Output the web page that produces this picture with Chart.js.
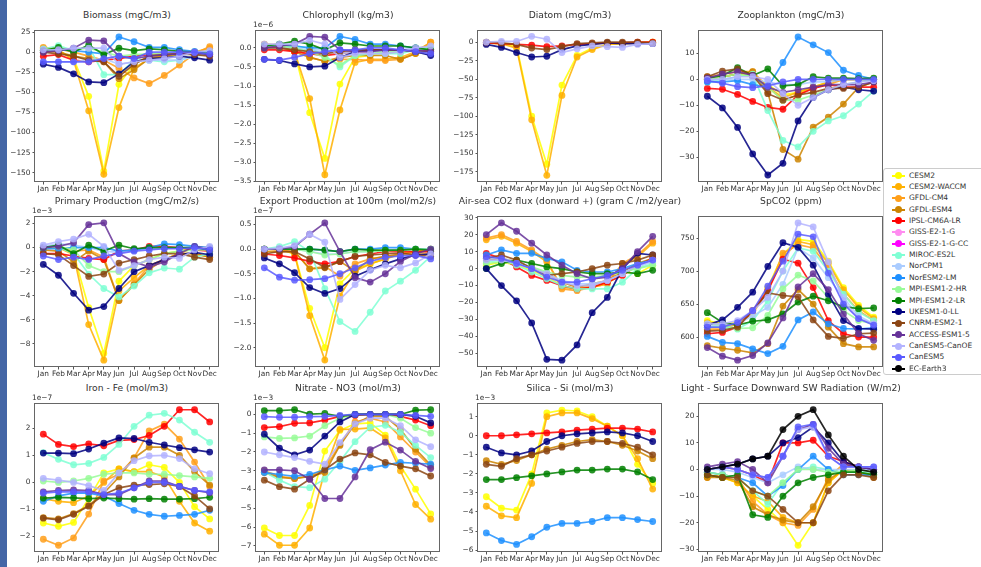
<!DOCTYPE html>
<html lang="en">
<head>
<meta charset="UTF-8">
<title>Seasonal anomalies by CMIP6 model</title>
<style>
  body { margin: 0; width: 981px; height: 567px; overflow: hidden; background: #fff; position: relative; font-family: "DejaVu Sans", sans-serif; }
  .strip { position: absolute; left: 0; top: 0; width: 7px; height: 567px; background: #4466a6; }
  .title { position: absolute; width: 400px; text-align: center; font-size: 9.2px; line-height: 12px; color: #333; white-space: nowrap; }
  canvas { position: absolute; }
  #legend { position: absolute; left: 883px; top: 168px; width: 110px; height: 205px; border: 1px solid #ccc; border-radius: 3px; background: #fff; z-index: 2; }
  .item { position: absolute; left: 0; height: 11px; width: 110px; }
  .ln { position: absolute; left: 8px; top: 5px; width: 13px; height: 2px; }
  .dt { position: absolute; left: 11px; top: 2.5px; width: 7px; height: 7px; border-radius: 50%; }
  .tx { position: absolute; left: 25px; top: 0; font-size: 7.5px; line-height: 11px; color: #333; white-space: nowrap; }
</style>
</head>
<body>

<div class="strip"></div>
<div id="legend"></div>

<script src="https://cdn.jsdelivr.net/npm/chart.js@4.4.1/dist/chart.umd.min.js"></script>
<script>
// ---- data ----
var months = ['Jan', 'Feb', 'Mar', 'Apr', 'May', 'Jun', 'Jul', 'Aug', 'Sep', 'Oct', 'Nov', 'Dec'];

var models = ['CESM2', 'CESM2-WACCM', 'GFDL-CM4', 'GFDL-ESM4', 'IPSL-CM6A-LR', 'GISS-E2-1-G',
    'GISS-E2-1-G-CC', 'MIROC-ES2L', 'NorCPM1', 'NorESM2-LM', 'MPI-ESM1-2-HR', 'MPI-ESM1-2-LR',
    'UKESM1-0-LL', 'CNRM-ESM2-1', 'ACCESS-ESM1-5', 'CanESM5-CanOE', 'CanESM5', 'EC-Earth3'];

var colors = ['#ffff00', '#ffb000', '#ff9f1a', '#cc8400', '#ff0000', '#ff8cf0',
    '#ff00ff', '#7fffd4', '#aaccff', '#1e90ff', '#98fb98', '#008000',
    '#000080', '#8b4513', '#663399', '#b3b3ff', '#5a5aff', '#000000'];

var titles = ['Biomass (mgC/m3)', 'Chlorophyll (kg/m3)', 'Diatom (mgC/m3)', 'Zooplankton (mgC/m3)',
    'Primary Production (mgC/m2/s)', 'Export Production at 100m (mol/m2/s)',
    'Air-sea CO2 flux (donward +) (gram C /m2/year)', 'SpCO2 (ppm)',
    'Iron - Fe (mol/m3)', 'Nitrate - NO3 (mol/m3)', 'Silica - Si (mol/m3)',
    'Light - Surface Downward SW Radiation (W/m2)'];

// offset labels (values below are in these units)
var offsets = ['', '1e\u22126', '', '', '1e\u22123', '1e\u22127', '', '', '1e\u22127', '1e\u22123', '1e\u22123', ''];

var yTicks = [
    [25, 0, -25, -50, -75, -100, -125, -150],
    [0, -0.5, -1, -1.5, -2, -2.5, -3, -3.5],
    [0, -25, -50, -75, -100, -125, -150, -175],
    [10, 0, -10, -20, -30],
    [2, 0, -2, -4, -6, -8],
    [0.5, 0, -0.5, -1, -1.5, -2],
    [30, 20, 10, 0, -10, -20, -30, -40, -50],
    [750, 700, 650, 600],
    [2, 1, 0, -1, -2],
    [0, -1, -2, -3, -4, -5, -6, -7],
    [1, 0, -1, -2, -3, -4, -5, -6],
    [20, 10, 0, -10, -20, -30]
];
var yDecimals = [0, 1, 0, 0, 0, 1, 0, 0, 0, 0, 0, 0];
var yMin = [-161.6, -3.52, -189, -39.5, -9.92, -2.39, -58, 554.6, -2.57, -7.33, -6.1, -31];
var yMax = [27.6, 0.47, 16.5, 19, 2.62, 0.67, 31, 783.5, 2.93, 0.61, 1.72, 25];

// one row per model (same order as models), null = not plotted
var biomass = [
    [3, 2, -8, -55, -148, -40, -15, -5, -2, -2, 0, 2],
    [5, 3, -10, -73, -152, -69, -20, -8, -4, -2, 0, 5],
    [6, 4, 0, -5, -10, -20, -32, -39, -29, -16, -2, 7],
    [2, 0, -5, -8, -12, -33, -22, -8, -5, -3, -2, -3],
    [-5, -3, -10, -12, -10, -8, -5, -3, -2, -2, -2, -3],
    null,
    null,
    [4, 8, 2, 7, -28, -28, -10, -10, -12, -10, -5, -2],
    [-12, -12, -12, -10, -8, -15, -12, -10, -10, -10, -5, -2],
    [2, 3, 2, 0, -2, 19, 13, 6, 6, 3, 1, 0],
    [2, 5, 3, 5, 0, -5, -3, -2, -2, -3, -2, 0],
    [2, 6, 0, 9, -3, 5, 2, 4, 3, 1, 0, -2],
    [-15, -19, -27, -37, -38, -27, -12, -8, -7, -5, -7, -10],
    [0, -2, -5, -10, -12, -30, -15, -5, -3, -2, -3, -5],
    [0, 2, 5, 15, 14, -5, -8, -5, -3, -2, -1, -3],
    [3, 3, 5, 5, 5, -15, -12, -10, -8, -5, 0, 2],
    [-12, -12, -12, -12, -8, -5, -8, 0, 0, 0, 0, -2],
    null
];

var chlorophyll = [
    [0.05, 0.05, -0.1, -1.7, -2.9, -0.95, -0.25, -0.2, -0.15, -0.1, -0.05, 0.1],
    [0.1, 0.08, -0.1, -1.33, -3.33, -1.63, -0.38, -0.3, -0.3, -0.25, -0.1, 0.15],
    [0.08, 0.05, 0, -0.25, -0.35, -0.3, -0.3, -0.33, -0.33, -0.3, -0.15, 0.15],
    [0.05, 0.02, -0.1, -0.25, -0.35, -0.25, -0.2, -0.2, -0.2, -0.3, -0.15, -0.05],
    [-0.05, -0.05, -0.1, -0.15, -0.2, -0.15, -0.1, -0.1, -0.05, -0.05, -0.05, -0.05],
    null,
    null,
    [0.05, 0.1, 0.05, 0, -0.2, -0.5, -0.2, -0.15, -0.15, -0.15, -0.05, 0],
    [0, 0, 0, -0.05, -0.05, -0.15, -0.1, -0.1, -0.1, -0.05, 0, 0],
    [0.05, 0.05, 0.05, 0, 0, 0.3, 0.22, 0.1, 0.1, 0.05, 0, -0.05],
    [0.05, 0.05, 0, -0.1, -0.25, -0.45, -0.2, -0.15, -0.1, -0.1, -0.05, 0],
    [0.05, 0.1, 0.18, 0.1, -0.05, 0.13, 0.1, 0.05, 0.05, 0.05, 0, -0.05],
    [-0.3, -0.33, -0.42, -0.5, -0.48, -0.25, -0.1, -0.05, -0.05, -0.05, -0.1, -0.2],
    [0, 0, -0.05, -0.1, -0.15, -0.1, -0.05, -0.05, -0.05, -0.05, -0.1, -0.1],
    [0, 0.05, 0.1, 0.3, 0.28, -0.05, -0.1, -0.1, -0.05, -0.05, -0.05, -0.1],
    [0.1, 0.1, 0.1, 0.2, 0.1, -0.25, -0.15, -0.15, -0.15, -0.1, 0, 0.05],
    [-0.3, -0.32, -0.25, -0.15, -0.1, -0.05, -0.05, 0, 0, -0.05, -0.1, -0.15],
    null
];

var diatom = [
    [-1, -2, -5, -100, -165, -58, -18, -8, -3, -2, -1, 0],
    [-1, -2, -8, -105, -180, -72, -20, -10, -3, -2, -1, 0],
    null,
    null,
    [-1, -2, -3, -4, -6, -5, -3, -2, -1, -1, 0, 0],
    null, null, null, null, null, null, null,
    [-3, -7, -14, -20, -19, -10, -5, -3, -1, -2, -2, -2],
    [0, -1, -3, -8, -10, -6, -2, -1, 0, 0, 0, -1],
    null,
    [0, 1, 1, 8, 4, -14, -9, -5, -6, -7, -3, -2],
    null,
    null
];

var zooplankton = [
    [0, 1, 2, 1, -2, -6, -5, -3, -1, 0, 0, 0],
    [0, 1, 2, 2, -3, -7, -5, -3, -1, 0, 0, 0],
    [1, 2, 3, 3, -3, -8, -6, -3, -2, 0, 0, 0],
    [0.5, 1, 2, 3, -5, -27, -30.7, -18.4, -14.5, -9.5, -3, -1],
    [-3.5, -3.8, -5.8, -8.5, -10.8, -11.5, -6, -3.5, -2, -3, -3, -3],
    null,
    null,
    [-1, 0, 1, 2, -12, -23.5, -26, -20, -16, -14, -9.5, -4.5],
    [0, 0, 0, 0, -1, -2, -2, -1, -1, 0, 0, 0],
    [-1, -1, -0.5, -2, -3, 6.5, 16.3, 13.3, 10.3, 3.5, 1.5, 0],
    [0, 1, 2, 1, -3, -8, -8, -6, -4, -2, -1, 0],
    [0.5, 1.5, 4.5, 1.5, 4, -2.5, -2, 1, 0.5, 0.5, 0.3, 0.5],
    [-6.5, -11, -18.5, -28.7, -36.8, -32.3, -16, -7, -4, -3, -4, -4.5],
    [1, 3.2, 4, 1.5, -5.5, -8, -6, -5, -3.5, -3.5, -3, -1],
    [0.5, 2, 3, 1.5, -3, -5, -4, -3, -2, -2, -2, -1],
    [0, 0, 1, 1, 0, -5.5, -10, -7, -4, -2, -1, -0.5],
    [-0.5, -1.5, -2.8, -3.2, -2.5, -1, 0, 0, 0, 0, 0, 0],
    null
];

var primaryProd = [
    [0, 0, -0.5, -5, -8.8, -2.8, -1.5, -1, -0.5, -0.3, 0, 0],
    [0, 0, -0.6, -6.4, -9.35, -3.6, -2.5, -1.5, -1, -0.5, 0, 0],
    [0, 0, -0.3, -0.2, -0.8, -4.4, -3, -1.5, -1, -0.5, -0.5, -0.8],
    [-0.2, -0.3, -1.2, -0.3, -1, -4.4, -3.1, -1.8, -1, -0.5, -0.5, -0.8],
    [-0.5, -0.5, -0.7, -0.9, -1, -0.3, -0.2, 0.1, 0.1, 0, -0.2, -0.3],
    null,
    null,
    [0, 0, -0.5, -2.2, -3.4, -4.1, -3.2, -2.1, -1.7, -1.8, -0.8, -0.5],
    [0.1, 0.3, 0.2, 0, -0.3, -0.4, -0.2, -0.1, 0, 0, 0, 0],
    [-0.1, -0.1, 0, 0, 0, -0.3, -0.2, 0, 0.3, 0.25, 0.1, 0],
    [0, 0.1, -0.2, -1.5, -2, -2, -1.5, -1, -0.5, -0.3, -0.2, -0.2],
    [0, 0.2, -0.5, 0.2, -0.3, 0.2, -0.1, 0, 0, 0, 0, -0.2],
    [-1.4, -2.3, -3.8, -5.2, -4.9, -3.4, -2, -1.5, -1, -0.6, -0.4, -0.6],
    [-0.5, -0.6, -1.5, -2.4, -2.2, -1.3, -1, -0.7, -0.5, -0.5, -0.8, -1],
    [0, 0.1, 0.4, 1.9, 2.05, -0.5, -1.2, -1.6, -1.2, -0.5, 0.1, -0.1],
    [0.2, 0.5, 0.7, 1.1, 0.1, -1.9, -1.5, -1, -0.8, -0.9, -0.2, 0.1],
    [-0.7, -1, -0.8, -1, -0.7, -0.5, -0.3, -0.2, -0.1, -0.1, 0, -0.2],
    null
];

var exportProd = [
    [0, 0, -0.1, -1.2, -2.0, -0.7, -0.4, -0.3, -0.2, -0.1, -0.05, 0],
    [0, 0, -0.1, -1.35, -2.25, -0.95, -0.45, -0.3, -0.2, -0.1, -0.05, 0],
    [0, -0.02, -0.05, -0.4, -0.35, -0.55, -0.3, -0.2, -0.15, -0.1, -0.05, -0.05],
    [-0.05, -0.05, -0.05, -0.4, -0.38, -0.25, -0.45, -0.2, -0.15, -0.1, -0.1, -0.1],
    [-0.1, -0.13, -0.18, -0.25, -0.3, -0.25, -0.15, -0.1, -0.05, -0.05, -0.05, -0.05],
    null,
    null,
    [0, 0.05, 0.15, -0.05, -0.8, -1.47, -1.67, -1.28, -0.85, -0.65, -0.43, -0.15],
    [0, 0, 0, -0.05, -0.1, -0.1, -0.05, -0.05, -0.03, 0, 0, 0],
    [0, 0, 0, 0, -0.02, -0.05, 0, 0, 0.03, 0.03, 0, 0],
    [0, 0, 0, -0.05, -0.12, -0.1, -0.05, -0.05, -0.03, -0.02, 0, 0],
    [0, 0, 0, 0, -0.02, -0.05, 0, -0.02, -0.02, -0.02, 0, -0.02],
    [-0.18, -0.3, -0.48, -0.78, -0.9, -0.8, -0.55, -0.42, -0.3, -0.2, -0.12, -0.1],
    [-0.1, -0.05, -0.05, -0.2, -0.37, -0.25, -0.15, -0.12, -0.1, -0.08, -0.12, -0.15],
    [0, 0, 0.05, 0.3, 0.53, -0.05, -0.58, -0.67, -0.5, -0.25, -0.1, 0],
    [0, 0.02, 0.07, 0.3, 0.14, -1.02, -0.72, -0.43, -0.33, -0.38, -0.28, -0.1],
    [-0.38, -0.57, -0.63, -0.62, -0.6, -0.5, -0.38, -0.25, -0.17, -0.14, -0.13, -0.2],
    null
];

var co2Flux = [
    [2, 4, 2, -1, -5, -10, -12, -11, -9, -2, -3, 2],
    [17, 19, 15, 10, 4, -11, -12, -10, -8, 2, 7, 15],
    [18, 20, 16, 11, 5, -12, -13, -11, -9, 3, 8, 16],
    [5, 6, 4, 0, -3, -8, -11, -9, -7, -2, 3, 6],
    [9, 6, 1, -4, -7, -10, -12, -11, -8, -4, 2, 6],
    null,
    null,
    [4, 5, 2, -2, -6, -10, -12, -12, -12, -8, 0, 3],
    [6, 6, 4, 1, -3, -7, -9, -9, -7, -3, 1, 4],
    [8, 11, 9, 9, 6, 4, -1, -2, -2, 0, 3, 5],
    [3, 4, 3, 1, -2, -4, -5, -5, -4, -2, 0, 2],
    [0, 3, 5, 3, 1, 0, -2, -3, -3, -2, -3, -1],
    [0, -10, -19, -32, -53.5, -54, -45, -26, -17, 0, 9, 8],
    [6, 8, 5, 0, -4, -3, -2, 0, 2, 3, 5, 8],
    [20, 27, 22, 15, 8, 2, -3, -6, -5, 0, 10, 19],
    [5, 5, 3, 0, -3, -8, -10, -10, -7, -3, 2, 5],
    [7, 6, 3, 0, -5, -8, -8, -6, -4, -1, 2, 5],
    null
];

var spco2 = [
    [625, 620, 622, 638, 675, 725, 748, 745, 715, 675, 648, 630],
    [622, 618, 620, 635, 672, 720, 745, 740, 712, 672, 645, 628],
    [612, 612, 620, 640, 670, 727, 740, 735, 705, 665, 640, 625],
    [587, 583, 580, 576, 590, 647, 672, 650, 615, 590, 585, 585],
    [605, 607, 615, 640, 670, 718, 712, 675, 625, 605, 600, 600],
    null,
    null,
    [615, 615, 612, 625, 655, 700, 735, 730, 700, 665, 638, 625],
    [618, 618, 620, 632, 645, 680, 735, 720, 690, 660, 632, 620],
    [601, 592, 590, 582, 575, 586, 626, 638, 620, 613, 612, 614],
    [620, 618, 613, 614, 633, 673, 694, 685, 660, 640, 625, 620],
    [637, 622, 618, 624, 626, 635, 653, 662, 655, 646, 643, 644],
    [618, 626, 645, 668, 707, 743, 736, 709, 665, 625, 613, 612],
    [609, 610, 615, 640, 667, 663, 661, 626, 601, 598, 605, 606],
    [584, 571, 565, 572, 591, 629, 676, 696, 672, 635, 605, 595],
    [620, 620, 625, 640, 660, 700, 773, 767, 714, 655, 628, 620],
    [615, 615, 622, 640, 677, 715, 756, 752, 697, 650, 628, 618],
    null
];

var iron = [
    [-1.5, -1.62, -1.48, -0.6, 0.35, 0.5, 0.4, 0.65, 0.55, 0, -0.9, -1.35],
    [-0.6, -0.7, -0.75, -0.5, 0, 0.5, 0.4, 0.4, 0.2, -0.7, -1.5, -1.8],
    [-2.1, -2.32, -2.05, -1.17, 0.05, 0.3, 0.9, 1.9, 2.15, 1.6, 0.75, -0.15],
    [-1.3, -1.35, -1.15, -0.85, -0.4, 0.2, 0.9, 1.3, 1.3, 1, 0.4, -0.1],
    [1.78, 1.4, 1.32, 1.42, 1.35, 1.55, 1.58, 1.73, 2.07, 2.68, 2.68, 2.23],
    null,
    null,
    [1.1, 0.85, 0.65, 0.7, 0.92, 1.4, 2.07, 2.48, 2.55, 2.3, 1.85, 1.48],
    null,
    [-0.7, -0.5, -0.4, -0.4, -0.5, -0.78, -1.03, -1.18, -1.25, -1.22, -1.18, -1.03],
    [0.05, 0, 0.05, 0.15, 0.3, 0.35, 0.35, 0.3, 0.3, 0.25, 0.2, 0.15],
    [-0.58, -0.55, -0.57, -0.6, -0.58, -0.6, -0.62, -0.6, -0.62, -0.62, -0.6, -0.55],
    [1.08, 1.08, 1.06, 1.23, 1.45, 1.64, 1.62, 1.48, 1.38, 1.28, 1.2, 1.12],
    [-1.32, -1.38, -1.18, -0.88, -0.45, -0.2, -0.1, -0.08, -0.05, -0.15, -0.5, -0.98],
    [-0.35, -0.3, -0.28, -0.3, -0.45, -0.45, -0.2, 0.05, 0.05, -0.15, -0.3, -0.38],
    [0.15, 0.08, 0, -0.12, -0.3, 0.35, 0.8, 0.98, 1, 0.88, 0.5, 0.32],
    [-0.4, -0.35, -0.35, -0.35, -0.45, -0.4, -0.2, 0, 0, -0.15, -0.3, -0.35],
    null
];

var nitrate = [
    [-6.05, -6.45, -6.45, -4.85, -1.95, -0.85, -0.5, -0.45, -1.1, -2.75, -3.98, -5.3],
    [-6.38, -6.97, -6.97, -6.05, -3, -0.8, -0.78, -0.72, -1.25, -3, -4.8, -5.58],
    [-3, -3.3, -3.4, -3.3, -2.9, -1.6, -0.4, -0.2, -0.4, -1.2, -2, -2.8],
    [-3.1, -3.35, -3.42, -3.3, -3.1, -1.65, -0.5, -0.1, -0.1, -0.8, -1.85, -2.7],
    [-0.7, -0.65, -0.47, -0.45, -0.3, -0.1, -0.05, 0, 0, -0.1, -0.3, -0.6],
    null,
    null,
    [-3.05, -3.5, -3.85, -3.9, -3.45, -2.5, -1.45, -0.68, -0.58, -0.95, -1.65, -2.3],
    null,
    [-3.1, -3.2, -3.3, -3.2, -2.95, -2.75, -2.98, -2.85, -2.7, -2.55, -2.6, -2.65],
    [-1.2, -1.28, -1.25, -1.15, -0.6, -0.2, 0, 0, 0, -0.2, -0.7, -1],
    [0.2, 0.2, 0.25, 0.02, 0.05, -0.1, 0, 0, 0, 0, 0.23, 0.25],
    [-1.05, -1.8, -2.15, -1.9, -1.15, -0.4, 0, 0, 0, 0, -0.1, -0.45],
    [-3.5, -3.85, -3.98, -3.45, -2.95, -2.38, -2.05, -2.15, -2.55, -2.75, -2.9, -3.28],
    [-2.95, -2.95, -3, -3.45, -4.48, -4.48, -3.33, -1.88, -1.48, -1.9, -2.5, -2.88],
    [-2, -2.15, -2.3, -2.5, -2.65, -1.5, -0.5, -0.2, -0.2, -0.6, -1.35, -1.72],
    [-0.12, -0.15, -0.15, -0.12, -0.1, -0.05, 0, 0, 0, 0, -0.05, -0.1],
    null
];

var silica = [
    [-3.2, -3.8, -3.9, -2, 1.2, 1.35, 1.3, 1, 0.5, 0, -1.5, -2.5],
    [-3.7, -4.2, -4.3, -2.5, 1, 1.2, 1.2, 0.9, 0.5, 0, -1.2, -2.8],
    null,
    [-1.3, -1.5, -1.3, -1, -0.7, -0.5, -0.3, -0.2, -0.3, -0.5, -0.8, -1.2],
    [0, 0, 0.05, 0.1, 0.15, 0.2, 0.3, 0.35, 0.4, 0.4, 0.35, 0.2],
    null, null, null, null,
    [-5.1, -5.5, -5.7, -5.3, -4.8, -4.6, -4.6, -4.5, -4.3, -4.3, -4.4, -4.5],
    null,
    [-2.3, -2.3, -2.2, -2.1, -2, -1.9, -1.8, -1.8, -1.75, -1.75, -1.9, -2.3],
    [-0.6, -0.9, -1, -0.8, -0.3, 0, 0.1, 0.15, 0.2, 0.15, 0, -0.3],
    [-1.5, -1.6, -1.2, -1, -0.8, -0.6, -0.4, -0.3, -0.3, -0.4, -0.6, -1],
    null, null, null, null
];

var light = [
    [-2, -3, -5, -10, -15, -20, -28.5, -20, -5, 0, -1, -2],
    [-2, -3, -5, -10, -12, -18, -20, -20, -5, 0, -1, -2],
    [-3, -2, -3, -12, -17, -20, -21, -15, -3, 2, 1, -2],
    [-3, -3, -4, -14, -17, -19, -20, -14, -4, 0, -1, -3],
    [0, 1, 0, -2, -5, 10, 10, 11, 5, 3, 1, 0],
    null,
    null,
    [-1, -2, -3, -8, -13, -5, 0, 1, 0, -1, -1, -1],
    [0, 0, -1, -3, -5, -2, 1, 0, 0, 0, 0, 0],
    [-1, -2, -3, -5, -10, -6, 0, 5, 0, -2, -2, -2],
    [-1, -2, -3, -8, -10, -5, 0, 0, -1, -1, 0, -1],
    [-2, -3, -2, -17, -18, -10, -5, -3, -2, -1, -1, -2],
    [0, 1, 2, 4, 5, 10, 12, 16, 10, 3, 1, 0],
    [-2, -3, -3, -8, -10, -15, -20, -20, -8, -2, -2, -3],
    [1, 2, 3, 0, -5, 5, 15, 17, 8, 2, 1, 0],
    [0, 1, 0, -2, -3, 5, 15, 16, 5, 1, 1, 1],
    [0, 1, 0, -2, -3, 5, 16, 17, 5, 1, 1, 1],
    [0, 1, 2, 4, 5, 15, 20, 22.5, 13, 5, 0, -1]
];

var panels = [biomass, chlorophyll, diatom, zooplankton, primaryProd, exportProd,
    co2Flux, spco2, iron, nitrate, silica, light];

// ---- layout ----
var colLeft = [35, 256, 478, 699];
var rowTop = [30, 216, 403];
var rowH = [152, 151, 149];
var plotW = 184;
var axisW = 40, axisH = 14, padTop = 10, padRight = 3;
var tickFont = { size: 7.4, family: 'DejaVu Sans' };

function rgba(hex, a) {
    var n = parseInt(hex.slice(1), 16);
    return 'rgba(' + (n >> 16) + ',' + ((n >> 8) & 255) + ',' + (n & 255) + ',' + a + ')';
}

var framePlugin = {
    id: 'frame',
    afterDatasetsDraw: function (chart, args, opts) {
        var a = chart.chartArea, c = chart.ctx;
        c.save();
        c.strokeStyle = '#666';
        c.lineWidth = 1;
        c.strokeRect(Math.round(a.left) - 0.5, Math.round(a.top) + 0.5,
            Math.round(a.right - a.left) + 1, Math.round(a.bottom - a.top) - 1);
        if (opts.exp) {
            c.fillStyle = '#333';
            c.font = '7.4px "DejaVu Sans"';
            c.textBaseline = 'bottom';
            c.fillText(opts.exp, a.left - 3, a.top - 1);
        }
        c.restore();
    }
};

panels.forEach(function (series, p) {
    var col = p % 4, row = Math.floor(p / 4);
    var left = colLeft[col], top = rowTop[row], h = rowH[row];

    var t = document.createElement('div');
    t.className = 'title';
    t.textContent = titles[p];
    t.style.left = (left + plotW / 2 - 200) + 'px';
    t.style.top = (top - 21) + 'px';
    document.body.appendChild(t);

    var cv = document.createElement('canvas');
    var cw = plotW + axisW + padRight, ch = h + padTop + axisH;
    cv.width = cw; cv.height = ch;
    cv.style.left = (left - axisW) + 'px';
    cv.style.top = (top - padTop) + 'px';
    cv.style.width = cw + 'px'; cv.style.height = ch + 'px';
    document.body.appendChild(cv);

    var datasets = [];
    series.forEach(function (vals, i) {
        if (!vals) return;
        datasets.push({
            label: models[i],
            data: vals.map(function (v, j) { return { x: j, y: v }; }),
            borderColor: rgba(colors[i], 0.85),
            backgroundColor: rgba(colors[i], 0.85),
            borderWidth: 1.7,
            pointRadius: 3.4,
            pointBorderWidth: 0,
            tension: 0,
            order: models.length - i
        });
    });

    var ticks = yTicks[p], dec = yDecimals[p];
    new Chart(cv, {
        type: 'line',
        data: { datasets: datasets },
        plugins: [framePlugin],
        options: {
            responsive: false,
            animation: false,
            events: [],
            layout: { padding: { top: padTop, right: padRight, left: 0, bottom: 0 } },
            plugins: {
                legend: { display: false },
                tooltip: { enabled: false },
                frame: { exp: offsets[p] }
            },
            scales: {
                x: {
                    type: 'linear',
                    min: -0.55, max: 11.55,
                    afterBuildTicks: function (s) { s.ticks = months.map(function (m, j) { return { value: j }; }); },
                    afterFit: function (s) { s.height = axisH; },
                    grid: { display: true, drawOnChartArea: false, drawTicks: true, tickLength: 2.5, color: '#555' },
                    border: { display: false },
                    ticks: {
                        autoSkip: false, maxRotation: 0, padding: 0, color: '#333', font: tickFont,
                        callback: function (v) { return months[v]; }
                    }
                },
                y: {
                    min: yMin[p], max: yMax[p],
                    afterBuildTicks: function (s) { s.ticks = ticks.map(function (v) { return { value: v }; }); },
                    afterFit: function (s) { s.width = axisW; },
                    grid: { display: true, drawOnChartArea: false, drawTicks: true, tickLength: 2.5, color: '#555' },
                    border: { display: false },
                    ticks: {
                        padding: 2, color: '#333', font: tickFont,
                        callback: function (v) { return v.toFixed(dec).replace('-', '\u2212'); }
                    }
                }
            }
        }
    });
});

// ---- legend ----
var leg = document.getElementById('legend');
models.forEach(function (m, i) {
    var item = document.createElement('div');
    item.className = 'item';
    item.style.top = (0.5 + i * 11.37) + 'px';
    item.innerHTML = '<span class="ln" style="background:' + colors[i] + '"></span>' +
        '<span class="dt" style="background:' + colors[i] + '"></span>' +
        '<span class="tx">' + m + '</span>';
    leg.appendChild(item);
});
</script>

</body>
</html>
